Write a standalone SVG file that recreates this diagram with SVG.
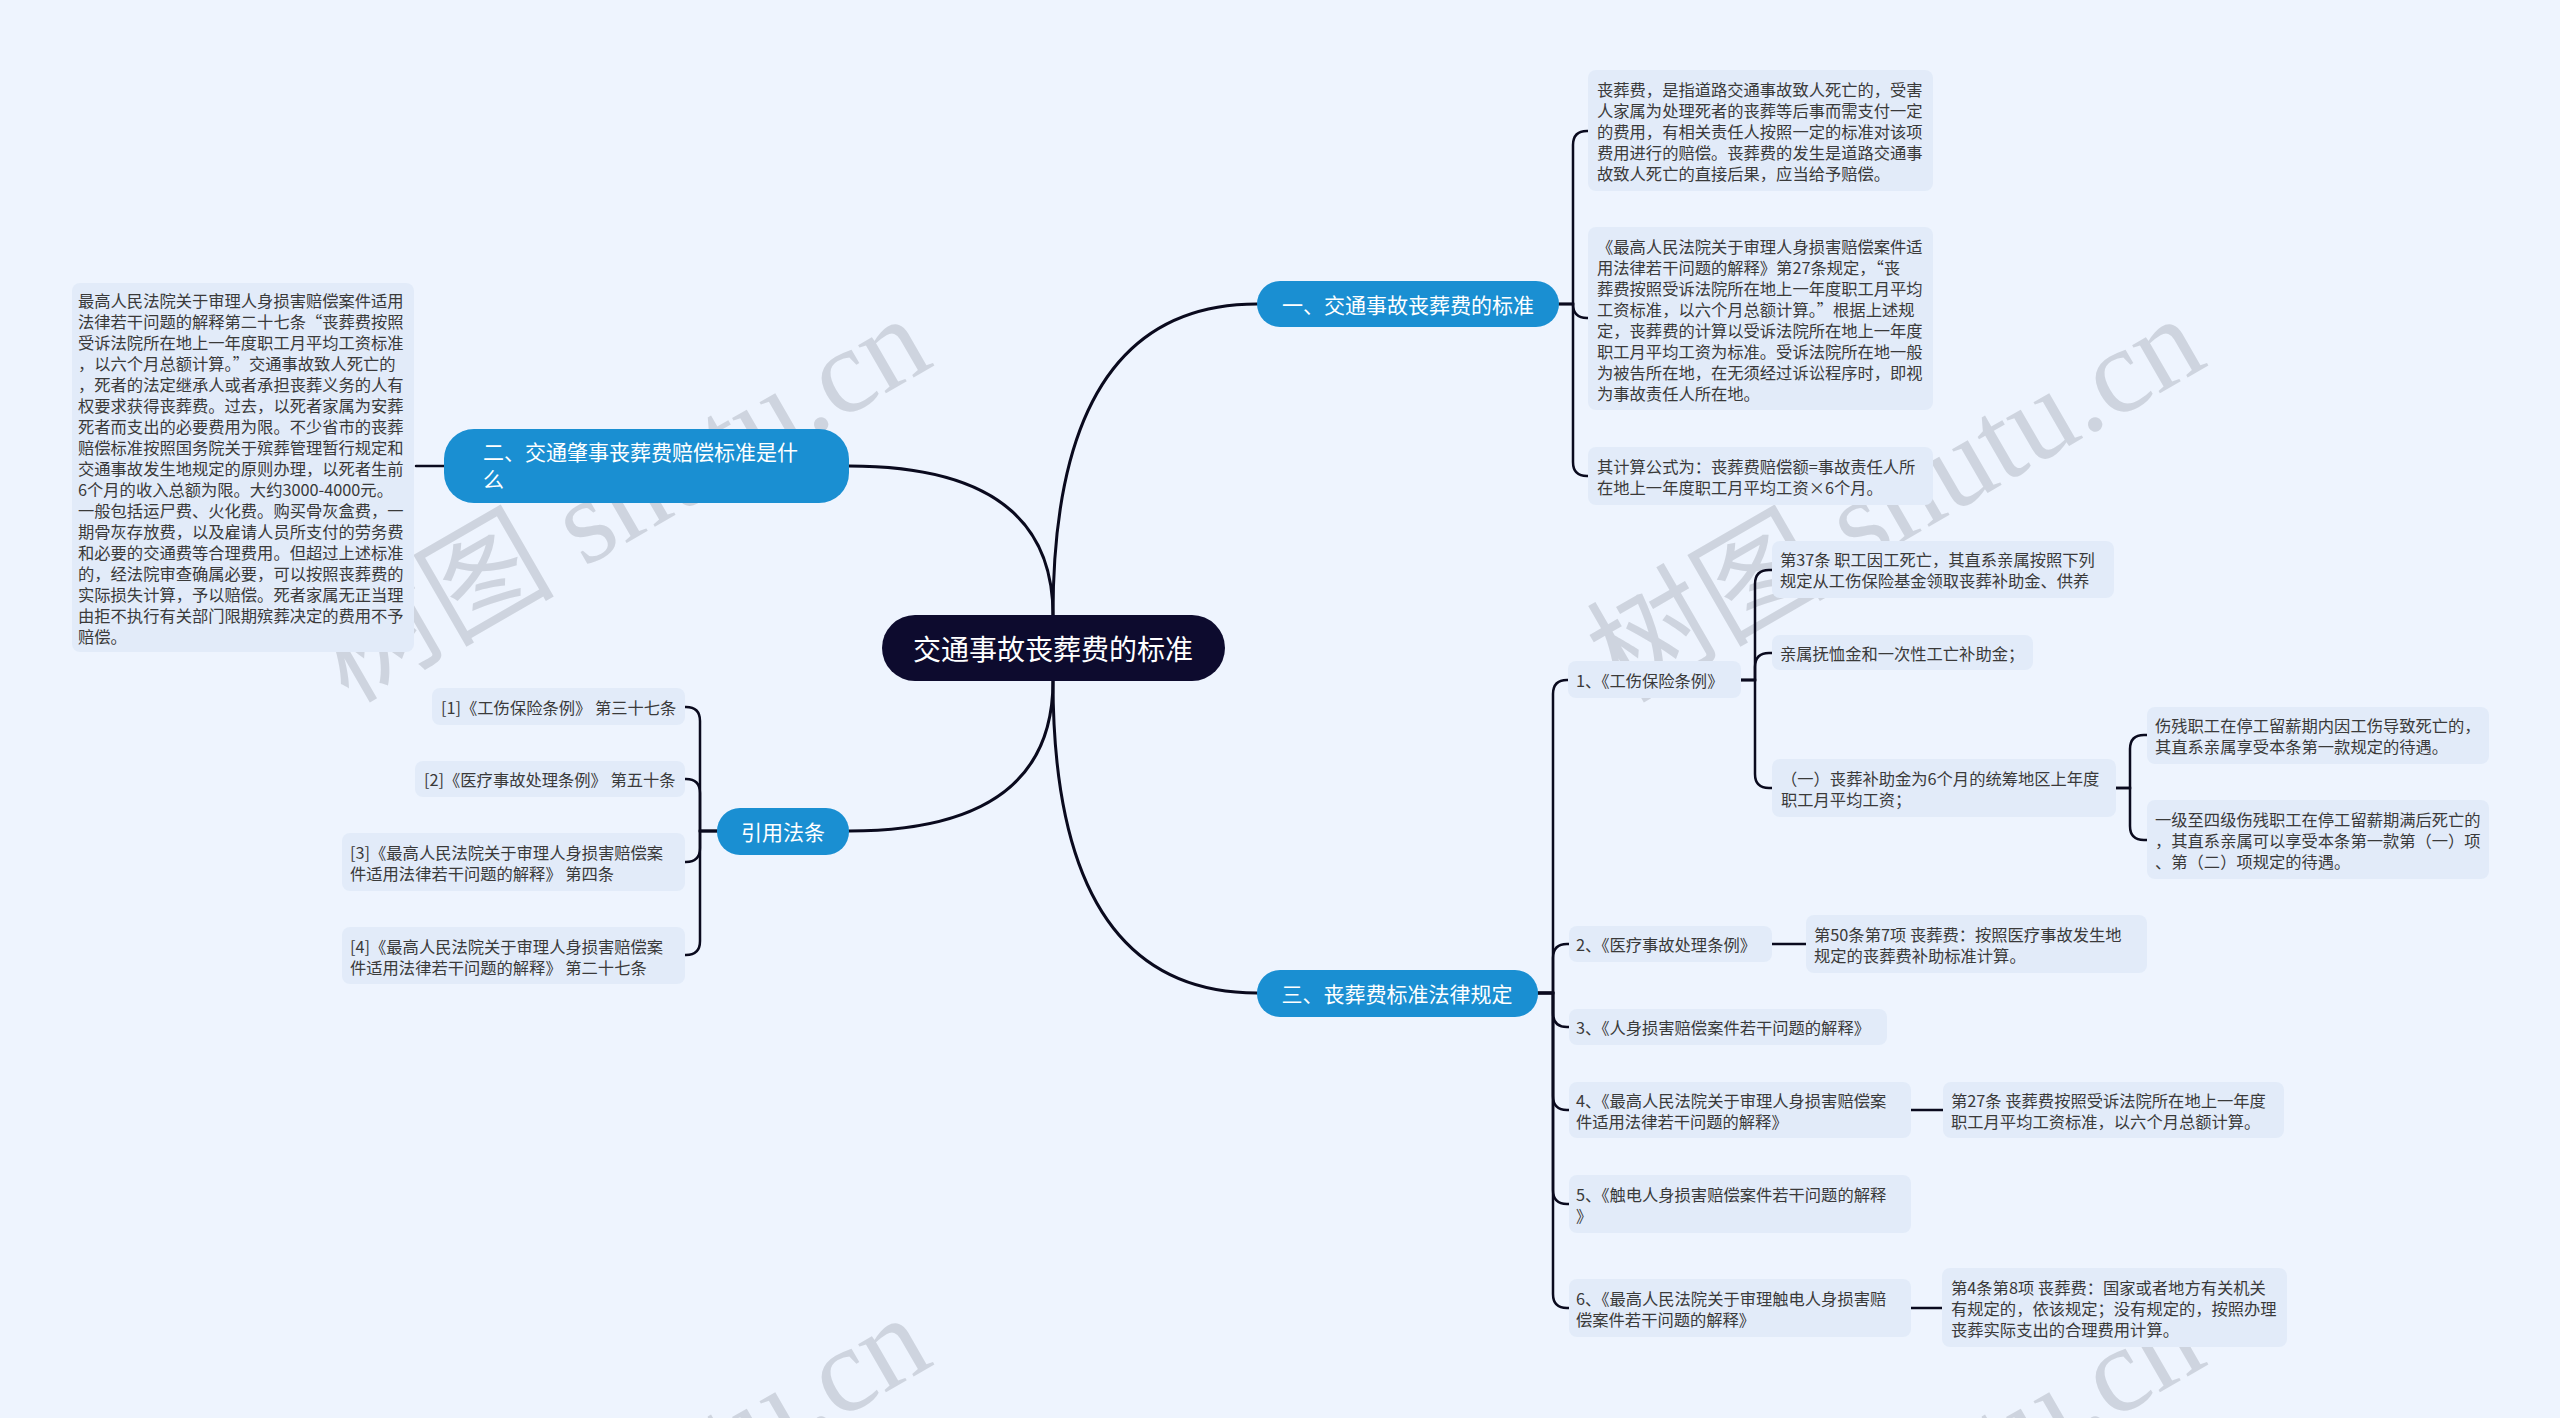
<svg xmlns="http://www.w3.org/2000/svg" width="2560" height="1418" viewBox="0 0 2560 1418">
<style>
.bg{fill:#eef4fe}
.wm{font-family:"Liberation Serif","Noto Sans CJK SC",serif;font-size:121px;fill:#a9afba;opacity:0.45}
.root rect{fill:#0d0b2e}
.root text{fill:#ffffff;font-family:"Noto Sans CJK SC","Noto Sans",sans-serif;font-size:28px;text-anchor:middle;dominant-baseline:central}
.main rect{fill:#1a8fd2}
.main text{fill:#ffffff;font-family:"Noto Sans CJK SC","Noto Sans",sans-serif;font-size:21px;dominant-baseline:central}
.leaf rect{fill:#e2ebf9}
.leaf text{fill:#3a3a3a;font-family:"Noto Sans CJK SC","Noto Sans",sans-serif;font-size:16.3px;dominant-baseline:central}
.conn path{fill:none;stroke:#0a0a1e;stroke-width:2.5;stroke-linecap:round}
.conn path.big{stroke-width:3}
</style>
<rect class="bg" x="0" y="0" width="2560" height="1418"/>
<g id="watermarks">
<text class="wm" transform="translate(348,704) rotate(-30)">树图 shutu.cn</text>
<text class="wm" transform="translate(1622,704) rotate(-30)">树图 shutu.cn</text>
<text class="wm" transform="translate(348,1703) rotate(-30)">树图 shutu.cn</text>
<text class="wm" transform="translate(1622,1703) rotate(-30)">树图 shutu.cn</text>
</g>
<g id="connectors" class="conn">
<path class="big" d="M1053 615 Q1053 304 1257 304"/>
<path class="big" d="M1053 615 Q1053 466 849 466"/>
<path class="big" d="M1053 681 Q1053 993 1257 993"/>
<path class="big" d="M1053 681 Q1053 831 849 831"/>
<path d="M1559 304 H1573 V145 Q1573 131 1587 131 H1588"/>
<path d="M1559 304 H1573 Q1573 318 1587 318 H1588"/>
<path d="M1559 304 H1573 V462 Q1573 476 1587 476 H1588"/>
<path d="M416 466 H444"/>
<path d="M717 831 H700 V721 Q700 707 686 707 H685"/>
<path d="M717 831 H700 V793 Q700 779 686 779 H685"/>
<path d="M717 831 H700 V848 Q700 862 686 862 H685"/>
<path d="M717 831 H700 V941 Q700 955 686 955 H685"/>
<path d="M1538 993 H1553 V694 Q1553 680 1567 680 H1568"/>
<path d="M1538 993 H1553 V958 Q1553 944 1567 944 H1569"/>
<path d="M1538 993 H1553 V1013 Q1553 1027 1567 1027 H1569"/>
<path d="M1538 993 H1553 V1096 Q1553 1110 1567 1110 H1569"/>
<path d="M1538 993 H1553 V1190 Q1553 1204 1567 1204 H1569"/>
<path d="M1538 993 H1553 V1294 Q1553 1308 1567 1308 H1569"/>
<path d="M1741 680 H1755 V584 Q1755 570 1769 570 H1772"/>
<path d="M1741 680 H1755 V667 Q1755 653 1769 653 H1772"/>
<path d="M1741 680 H1755 V774 Q1755 788 1769 788 H1772"/>
<path d="M2116 788 H2130 V749 Q2130 735 2144 735 H2147"/>
<path d="M2116 788 H2130 V826 Q2130 840 2144 840 H2147"/>
<path d="M1772 944 H1806"/>
<path d="M1911 1110 H1943"/>
<path d="M1911 1308 H1942"/>
</g>
<g id="root" class="root">
<rect x="882" y="615" width="343" height="66" rx="33"/>
<text x="1053" y="648">交通事故丧葬费的标准</text>
</g>
<g id="b1" class="main">
<rect x="1257" y="281" width="302" height="46" rx="23"/>
<text x="1408" y="304" text-anchor="middle">一、交通事故丧葬费的标准</text>
</g>
<g id="b2" class="main">
<rect x="444" y="429" width="405" height="74" rx="30"/>
<text x="483" y="451">二、交通肇事丧葬费赔偿标准是什</text>
<text x="483" y="478">么</text>
</g>
<g id="b3" class="main">
<rect x="1257" y="970" width="281" height="47" rx="23"/>
<text x="1397" y="993" text-anchor="middle">三、丧葬费标准法律规定</text>
</g>
<g id="b4" class="main">
<rect x="717" y="808" width="132" height="47" rx="23"/>
<text x="783" y="831" text-anchor="middle">引用法条</text>
</g>
<g id="n1a" class="leaf">
<rect x="1588" y="70" width="345" height="121" rx="8"/>
<text x="1597" y="89">丧葬费，是指道路交通事故致人死亡的，受害</text>
<text x="1597" y="110">人家属为处理死者的丧葬等后事而需支付一定</text>
<text x="1597" y="131">的费用，有相关责任人按照一定的标准对该项</text>
<text x="1597" y="152">费用进行的赔偿。丧葬费的发生是道路交通事</text>
<text x="1597" y="173">故致人死亡的直接后果，应当给予赔偿。</text>
</g>
<g id="n1b" class="leaf">
<rect x="1588" y="227" width="345" height="183" rx="8"/>
<text x="1597" y="246">《最高人民法院关于审理人身损害赔偿案件适</text>
<text x="1597" y="267">用法律若干问题的解释》第27条规定，“丧</text>
<text x="1597" y="288">葬费按照受诉法院所在地上一年度职工月平均</text>
<text x="1597" y="309">工资标准，以六个月总额计算。”根据上述规</text>
<text x="1597" y="330">定，丧葬费的计算以受诉法院所在地上一年度</text>
<text x="1597" y="351">职工月平均工资为标准。受诉法院所在地一般</text>
<text x="1597" y="372">为被告所在地，在无须经过诉讼程序时，即视</text>
<text x="1597" y="393">为事故责任人所在地。</text>
</g>
<g id="n1c" class="leaf">
<rect x="1588" y="447" width="345" height="58" rx="8"/>
<text x="1597" y="466">其计算公式为：丧葬费赔偿额=事故责任人所</text>
<text x="1597" y="487">在地上一年度职工月平均工资×6个月。</text>
</g>
<g id="n2a" class="leaf">
<rect x="72" y="283" width="342" height="369" rx="8"/>
<text x="78" y="299.5">最高人民法院关于审理人身损害赔偿案件适用</text>
<text x="78" y="320.5">法律若干问题的解释第二十七条“丧葬费按照</text>
<text x="78" y="341.5">受诉法院所在地上一年度职工月平均工资标准</text>
<text x="78" y="362.5">，以六个月总额计算。”交通事故致人死亡的</text>
<text x="78" y="383.5">，死者的法定继承人或者承担丧葬义务的人有</text>
<text x="78" y="404.5">权要求获得丧葬费。过去，以死者家属为安葬</text>
<text x="78" y="425.5">死者而支出的必要费用为限。不少省市的丧葬</text>
<text x="78" y="446.5">赔偿标准按照国务院关于殡葬管理暂行规定和</text>
<text x="78" y="467.5">交通事故发生地规定的原则办理，以死者生前</text>
<text x="78" y="488.5">6个月的收入总额为限。大约3000-4000元。</text>
<text x="78" y="509.5">一般包括运尸费、火化费。购买骨灰盒费，一</text>
<text x="78" y="530.5">期骨灰存放费，以及雇请人员所支付的劳务费</text>
<text x="78" y="551.5">和必要的交通费等合理费用。但超过上述标准</text>
<text x="78" y="572.5">的，经法院审查确属必要，可以按照丧葬费的</text>
<text x="78" y="593.5">实际损失计算，予以赔偿。死者家属无正当理</text>
<text x="78" y="614.5">由拒不执行有关部门限期殡葬决定的费用不予</text>
<text x="78" y="635.5">赔偿。</text>
</g>
<g id="r1" class="leaf">
<rect x="432" y="688" width="253" height="37" rx="8"/>
<text x="441" y="707">[1]《工伤保险条例》 第三十七条</text>
</g>
<g id="r2" class="leaf">
<rect x="415" y="761" width="270" height="36" rx="8"/>
<text x="424" y="779">[2]《医疗事故处理条例》 第五十条</text>
</g>
<g id="r3" class="leaf">
<rect x="342" y="833" width="343" height="58" rx="8"/>
<text x="350" y="852">[3]《最高人民法院关于审理人身损害赔偿案</text>
<text x="350" y="873">件适用法律若干问题的解释》 第四条</text>
</g>
<g id="r4" class="leaf">
<rect x="342" y="927" width="343" height="57" rx="8"/>
<text x="350" y="946">[4]《最高人民法院关于审理人身损害赔偿案</text>
<text x="350" y="967">件适用法律若干问题的解释》 第二十七条</text>
</g>
<g id="c1" class="leaf">
<rect x="1568" y="661" width="173" height="37" rx="8"/>
<text x="1576" y="680">1、《工伤保险条例》</text>
</g>
<g id="g1" class="leaf">
<rect x="1772" y="541" width="342" height="57" rx="8"/>
<text x="1780" y="559">第37条 职工因工死亡，其直系亲属按照下列</text>
<text x="1780" y="580">规定从工伤保险基金领取丧葬补助金、供养</text>
</g>
<g id="g2" class="leaf">
<rect x="1772" y="635" width="261" height="35" rx="8"/>
<text x="1780" y="653">亲属抚恤金和一次性工亡补助金；</text>
</g>
<g id="g3" class="leaf">
<rect x="1772" y="759" width="344" height="58" rx="8"/>
<text x="1781" y="778">（一）丧葬补助金为6个月的统筹地区上年度</text>
<text x="1781" y="799">职工月平均工资；</text>
</g>
<g id="gg1" class="leaf">
<rect x="2147" y="707" width="342" height="57" rx="8"/>
<text x="2155" y="725">伤残职工在停工留薪期内因工伤导致死亡的，</text>
<text x="2155" y="746">其直系亲属享受本条第一款规定的待遇。</text>
</g>
<g id="gg2" class="leaf">
<rect x="2147" y="800" width="342" height="79" rx="8"/>
<text x="2155" y="819">一级至四级伤残职工在停工留薪期满后死亡的</text>
<text x="2155" y="840">，其直系亲属可以享受本条第一款第（一）项</text>
<text x="2155" y="861">、第（二）项规定的待遇。</text>
</g>
<g id="c2" class="leaf">
<rect x="1569" y="926" width="203" height="36" rx="8"/>
<text x="1576" y="944">2、《医疗事故处理条例》</text>
</g>
<g id="c2a" class="leaf">
<rect x="1806" y="915" width="341" height="58" rx="8"/>
<text x="1814" y="934">第50条第7项 丧葬费：按照医疗事故发生地</text>
<text x="1814" y="955">规定的丧葬费补助标准计算。</text>
</g>
<g id="c3" class="leaf">
<rect x="1569" y="1009" width="318" height="36" rx="8"/>
<text x="1576" y="1027">3、《人身损害赔偿案件若干问题的解释》</text>
</g>
<g id="c4" class="leaf">
<rect x="1569" y="1082" width="342" height="56" rx="8"/>
<text x="1576" y="1100">4、《最高人民法院关于审理人身损害赔偿案</text>
<text x="1576" y="1121">件适用法律若干问题的解释》</text>
</g>
<g id="c4a" class="leaf">
<rect x="1943" y="1082" width="341" height="56" rx="8"/>
<text x="1951" y="1100">第27条 丧葬费按照受诉法院所在地上一年度</text>
<text x="1951" y="1121">职工月平均工资标准，以六个月总额计算。</text>
</g>
<g id="c5" class="leaf">
<rect x="1569" y="1175" width="342" height="58" rx="8"/>
<text x="1576" y="1194">5、《触电人身损害赔偿案件若干问题的解释</text>
<text x="1576" y="1215">》</text>
</g>
<g id="c6" class="leaf">
<rect x="1569" y="1279" width="342" height="58" rx="8"/>
<text x="1576" y="1298">6、《最高人民法院关于审理触电人身损害赔</text>
<text x="1576" y="1319">偿案件若干问题的解释》</text>
</g>
<g id="c6a" class="leaf">
<rect x="1942" y="1268" width="345" height="79" rx="8"/>
<text x="1951" y="1287">第4条第8项 丧葬费：国家或者地方有关机关</text>
<text x="1951" y="1308">有规定的，依该规定；没有规定的，按照办理</text>
<text x="1951" y="1329">丧葬实际支出的合理费用计算。</text>
</g>
</svg>
